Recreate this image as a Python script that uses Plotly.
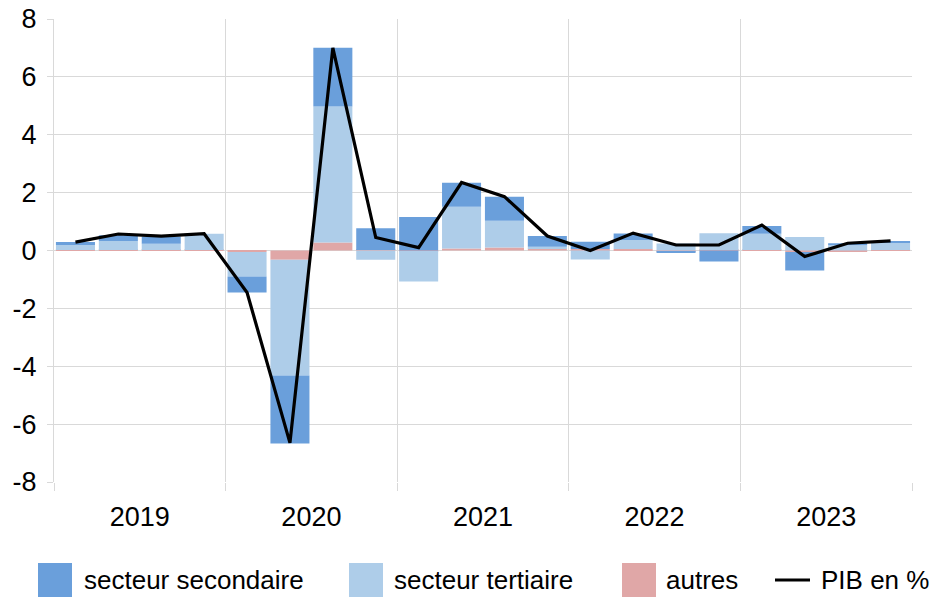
import plotly.graph_objects as go

quarters = ["2019T1", "2019T2", "2019T3", "2019T4",
            "2020T1", "2020T2", "2020T3", "2020T4",
            "2021T1", "2021T2", "2021T3", "2021T4",
            "2022T1", "2022T2", "2022T3", "2022T4",
            "2023T1", "2023T2", "2023T3", "2023T4"]
years = ["2019", "2020", "2021", "2022", "2023"]
y_ticks = [-8, -6, -4, -2, 0, 2, 4, 6, 8]
y_tick_labels = ["-8", "-6", "-4", "-2", "0", "2", "4", "6", "8"]

secteur_secondaire = [0.10, 0.20, 0.25, 0.00, -0.55, -2.35, 2.03, 0.75, 1.16, 0.83,
                      0.83, 0.37, 0.25, 0.23, -0.04, -0.38, 0.27, -0.64, 0.07, 0.05]
secteur_tertiaire = [0.17, 0.31, 0.21, 0.56, -0.85, -4.00, 4.70, -0.32, -1.05, 1.44,
                     0.93, 0.06, -0.31, 0.31, 0.24, 0.58, 0.56, 0.47, 0.18, 0.26]
autres = [0.02, 0.02, 0.02, 0.02, -0.05, -0.32, 0.28, 0.02, -0.02, 0.07,
          0.10, 0.07, 0.05, 0.05, -0.03, 0.02, 0.02, -0.05, -0.03, 0.02]
pib = [0.29, 0.57, 0.50, 0.58, -1.45, -6.65, 7.00, 0.45, 0.10, 2.35,
       1.86, 0.50, 0.00, 0.60, 0.19, 0.19, 0.88, -0.21, 0.25, 0.33]

C_SEC = "#6A9FDB"
C_TER = "#AECDE9"
C_AUT = "#E0A7A7"

x = list(range(len(quarters)))
year_pos = [4 * i + 1.5 for i in range(len(years))]

FONT = "Liberation Sans, Arial, sans-serif"

fig = go.Figure()
fig.add_trace(go.Bar(x=x, y=autres, name="autres", marker_color=C_AUT,
                     marker_line_width=0, customdata=quarters))
fig.add_trace(go.Bar(x=x, y=secteur_tertiaire, name="secteur tertiaire", marker_color=C_TER,
                     marker_line_width=0, customdata=quarters))
fig.add_trace(go.Bar(x=x, y=secteur_secondaire, name="secteur secondaire", marker_color=C_SEC,
                     marker_line_width=0, customdata=quarters))
fig.add_trace(go.Scatter(x=x, y=pib, name="PIB en %", mode="lines",
                         line=dict(color="black", width=3.2)))

W, H = 934, 598
ML, MR, MT, MB = 54, 22, 19, 116
pw, ph = W - ML - MR, H - MT - MB


def px_x(p):  # pixel -> paper
    return (p - ML) / pw


def px_y(p):
    return (H - MB - p) / ph


legend_items = [
    ("rect", C_SEC, "secteur secondaire", 38, 82),
    ("rect", C_TER, "secteur tertiaire", 349, 392),
    ("rect", C_AUT, "autres", 622, 664),
    ("line", "black", "PIB en %", 775, 819),
]
shapes = []
annotations = []
for kind, col, label, kx, tx in legend_items:
    if kind == "rect":
        shapes.append(dict(type="rect", xref="paper", yref="paper",
                           x0=px_x(kx), x1=px_x(kx + 34), y0=px_y(597), y1=px_y(563),
                           fillcolor=col, line=dict(width=0)))
    else:
        shapes.append(dict(type="line", xref="paper", yref="paper",
                           x0=px_x(kx), x1=px_x(kx + 35), y0=px_y(580), y1=px_y(580),
                           line=dict(color=col, width=3)))
    annotations.append(dict(text=label, xref="paper", yref="paper", x=px_x(tx), y=px_y(580),
                            xanchor="left", yanchor="middle", showarrow=False,
                            font=dict(size=26, color="black", family=FONT)))

fig.update_layout(
    width=W, height=H,
    margin=dict(l=ML, r=MR, t=MT, b=MB, pad=0),
    barmode="relative", bargap=0.09,
    plot_bgcolor="white", paper_bgcolor="white",
    font=dict(family=FONT, size=27, color="black"),
    showlegend=False,
    shapes=shapes, annotations=annotations,
    xaxis=dict(range=[-0.5, 19.5], tickmode="array", tickvals=year_pos, ticktext=years,
               showgrid=False, ticks="", zeroline=False, showline=False, automargin=False,
               minor=dict(tickmode="linear", tick0=-0.5, dtick=4, showgrid=True,
                          gridcolor="#D9D9D9", gridwidth=1, ticks="outside", ticklen=8,
                          tickcolor="#D9D9D9"),
               tickfont=dict(size=27), ticklabelstandoff=16),
    yaxis=dict(range=[-8, 8], tickmode="array", tickvals=y_ticks, ticktext=y_tick_labels,
               showgrid=True, gridcolor="#D9D9D9", gridwidth=1, zeroline=False,
               showline=True, linecolor="#D9D9D9", ticks="outside", ticklen=6,
               tickcolor="#D9D9D9", tickfont=dict(size=27), automargin=False,
               ticklabelstandoff=5),
)

fig.write_html("out.html", config={"displayModeBar": False},
               post_script="document.body.style.margin='0';")
